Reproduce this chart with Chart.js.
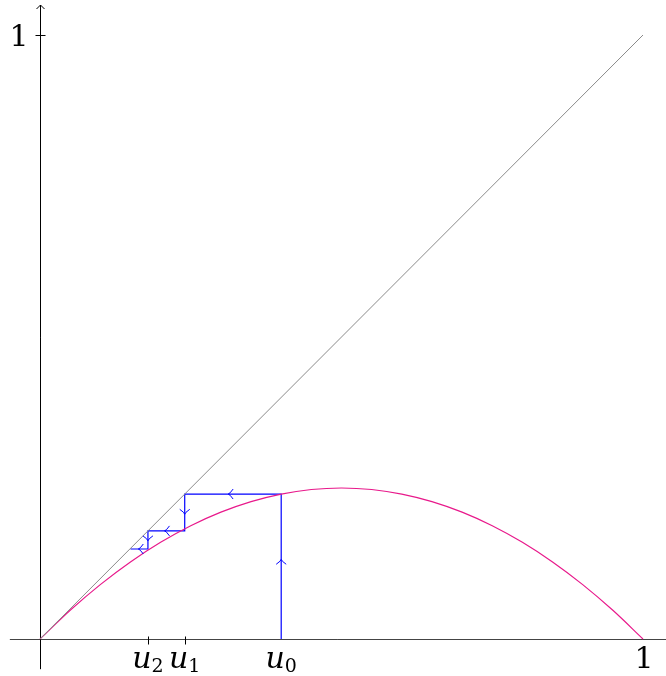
<!DOCTYPE html>
<html>
<head>
<meta charset="utf-8">
<script src="https://cdn.jsdelivr.net/npm/chart.js@4/dist/chart.umd.min.js"></script>
<style>
  html, body { margin: 0; padding: 0; background: #fff; }
  #wrap { width: 666px; height: 676px; }
</style>
</head>
<body>
<div id="wrap"><canvas id="c" width="666" height="676"></canvas></div>
<script>
// curve y = f(x)
const curveX = [0, 0.05, 0.1, 0.15, 0.2, 0.25, 0.3, 0.35, 0.4, 0.45, 0.5, 0.55, 0.6, 0.65, 0.7, 0.75, 0.8, 0.85, 0.9, 0.95, 1];
const curveY = [0, 0.0475, 0.09, 0.1275, 0.16, 0.1875, 0.21, 0.2275, 0.24, 0.2475, 0.25, 0.2475, 0.24, 0.2275, 0.21, 0.1875, 0.16, 0.1275, 0.09, 0.0475, 0];

// diagonal y = x
const diagX = [0, 1];
const diagY = [0, 1];

// cobweb path
const cobX = [0.4, 0.4, 0.24, 0.24, 0.179, 0.179, 0.15];
const cobY = [0, 0.24, 0.24, 0.179, 0.179, 0.149, 0.149];

// tick labels
const xTickVals = [0.179, 0.24, 0.4, 1];
const xTickNames = ['u2', 'u1', 'u0', '1'];
const xTickMarks = [0.179, 0.24];
const yTickVals = [1];
const yTickNames = ['1'];

const pts = (xs, ys) => xs.map((x, i) => ({ x: x, y: ys[i] }));
const snap = v => Math.round(v) + 0.5;

const drawPlot = {
  id: 'drawPlot',
  beforeDatasetsDraw(chart) {
    const { ctx, scales: { x, y } } = chart;
    const x0 = snap(x.getPixelForValue(0)), y0 = snap(y.getPixelForValue(0));
    ctx.save();
    // x axis
    ctx.strokeStyle = '#444';
    ctx.lineWidth = 1;
    ctx.beginPath();
    ctx.moveTo(x.getPixelForValue(-0.05), y0);
    ctx.lineTo(x.right, y0);
    ctx.stroke();
    // y axis with arrow
    ctx.strokeStyle = '#000';
    const yTop = Math.round(y.getPixelForValue(1.05));
    ctx.beginPath();
    ctx.moveTo(x0, y.getPixelForValue(-0.05));
    ctx.lineTo(x0, yTop);
    ctx.stroke();
    ctx.beginPath();
    ctx.moveTo(x0 - 4, yTop + 4);
    ctx.lineTo(x0, yTop);
    ctx.lineTo(x0 + 4, yTop + 4);
    ctx.stroke();
    // ticks
    xTickMarks.forEach(v => {
      const px = snap(x.getPixelForValue(v));
      ctx.beginPath();
      ctx.moveTo(px, y0 - 3);
      ctx.lineTo(px, y0 + 5);
      ctx.stroke();
    });
    yTickVals.forEach(v => {
      const py = snap(y.getPixelForValue(v));
      ctx.beginPath();
      ctx.moveTo(x0 - 5, py);
      ctx.lineTo(x0 + 5, py);
      ctx.stroke();
    });
    ctx.restore();
  },
  afterDatasetsDraw(chart) {
    const { ctx, scales: { x, y } } = chart;
    const y0 = y.getPixelForValue(0);
    ctx.save();
    // arrows on cobweb segments
    ctx.strokeStyle = '#0000ff';
    ctx.lineWidth = 1;
    for (let i = 0; i < cobX.length - 1; i++) {
      const ax = x.getPixelForValue(cobX[i]), ay = y.getPixelForValue(cobY[i]);
      const bx = x.getPixelForValue(cobX[i + 1]), by = y.getPixelForValue(cobY[i + 1]);
      const mx = ax + (bx - ax) * 0.55, my = ay + (by - ay) * 0.55;
      const len = Math.hypot(bx - ax, by - ay);
      const dx = (bx - ax) / len, dy = (by - ay) / len;
      const s = 5;
      ctx.beginPath();
      ctx.moveTo(mx - dx * s - dy * s, my - dy * s + dx * s);
      ctx.quadraticCurveTo(mx - dx * 1.5, my - dy * 1.5, mx, my);
      ctx.quadraticCurveTo(mx - dx * 1.5, my - dy * 1.5, mx - dx * s + dy * s, my - dy * s - dx * s);
      ctx.stroke();
    }
    // tick labels
    ctx.fillStyle = '#000';
    ctx.textBaseline = 'alphabetic';
    xTickVals.forEach((v, i) => {
      const px = x.getPixelForValue(v);
      const name = xTickNames[i];
      if (name.length === 1) {
        ctx.font = '30px "DejaVu Serif"';
        ctx.textAlign = 'center';
        ctx.fillText(name, px + 1, y0 + 29);
      } else {
        ctx.font = 'italic 30px "DejaVu Serif"';
        const w1 = ctx.measureText(name[0]).width;
        ctx.font = '19px "DejaVu Serif"';
        const w2 = ctx.measureText(name[1]).width;
        const left = px - (w1 + w2) / 2;
        ctx.textAlign = 'left';
        ctx.font = 'italic 30px "DejaVu Serif"';
        ctx.fillText(name[0], left, y0 + 29);
        ctx.font = '19px "DejaVu Serif"';
        ctx.fillText(name[1], left + w1, y0 + 33);
      }
    });
    yTickVals.forEach((v, i) => {
      const py = y.getPixelForValue(v);
      ctx.font = '30px "DejaVu Serif"';
      ctx.textAlign = 'center';
      ctx.fillText(yTickNames[i], 19, py + 11);
    });
    ctx.restore();
  }
};

new Chart(document.getElementById('c'), {
  type: 'scatter',
  data: {
    datasets: [
      { data: pts(diagX, diagY), showLine: true, borderColor: '#8a8a8a', borderWidth: 1, pointRadius: 0 },
      { data: pts(curveX, curveY), showLine: true, borderColor: '#e8198b', borderWidth: 1.2, pointRadius: 0, cubicInterpolationMode: 'monotone' },
      { data: pts(cobX, cobY), showLine: true, borderColor: '#0000ff', borderWidth: 1.2, pointRadius: 0 }
    ]
  },
  options: {
    responsive: false,
    animation: false,
    layout: { padding: 0 },
    plugins: { legend: { display: false }, tooltip: { enabled: false } },
    scales: {
      x: { type: 'linear', display: false, min: -40 / 603, max: 626 / 603 },
      y: { type: 'linear', display: false, min: -37 / 604, max: 639 / 604 }
    }
  },
  plugins: [drawPlot]
});
</script>
</body>
</html>
